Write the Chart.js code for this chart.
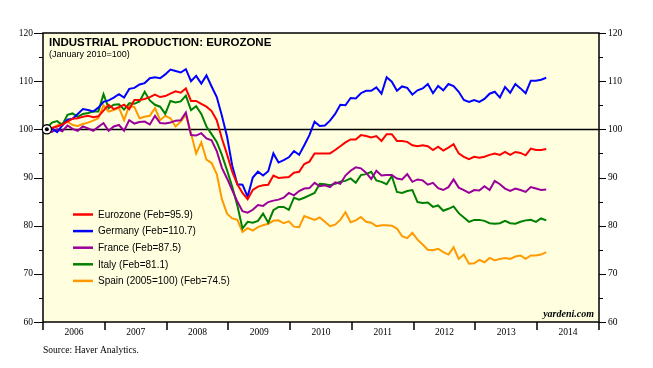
<!DOCTYPE html>
<html><head><meta charset="utf-8">
<script src="https://cdn.jsdelivr.net/npm/chart.js@4/dist/chart.umd.min.js"></script>
<style>html,body{margin:0;padding:0;background:#fff;}canvas{display:block;}</style>
</head><body>
<canvas id="c" width="653" height="368"></canvas>
<script>
// ---- data (monthly, Jan 2006 .. Feb 2014) ----
const years = ['2006','2007','2008','2009','2010','2011','2012','2013','2014'];
const yMajorTicks = [60,70,80,90,100,110,120];
const yMinorTicks = [65,75,85,95,105,115];
const refValue = 100;
const titleText = 'INDUSTRIAL PRODUCTION: EUROZONE';
const subtitleText = '(January 2010=100)';
const sourceText = 'Source: Haver Analytics.';
const brandText = 'yardeni.com';

const seriesNames = ['Eurozone (Feb=95.9)','Germany (Feb=110.7)','France (Feb=87.5)','Italy (Feb=81.1)','Spain (2005=100) (Feb=74.5)'];
const seriesColors = ['#FF0000','#0000FF','#990099','#008000','#FF9900'];

const eurozone = [100.0,100.3,100.6,101.0,101.6,102.2,102.3,102.6,102.8,102.5,
102.7,103.9,105.1,104.2,104.6,105.1,104.2,106.1,106.1,106.3,
106.7,107.2,106.7,106.9,107.4,107.9,107.6,108.5,105.9,105.9,
105.3,104.7,103.8,101.9,98.1,94.8,91.2,88.6,86.8,85.5,
87.4,88.1,88.4,88.5,90.4,89.9,90.0,90.1,91.0,91.2,
92.8,93.3,95.0,95.0,95.0,95.0,95.7,96.5,97.3,97.9,
97.9,98.8,98.6,98.3,98.6,97.6,99.0,99.0,97.6,97.6,
97.4,96.7,96.5,96.7,96.5,95.7,96.4,95.6,96.2,96.9,
95.0,94.3,93.8,94.3,94.1,94.3,94.7,95.0,94.7,95.3,
94.7,95.3,95.1,94.6,96.0,95.7,95.7,95.9];

const germany = [100.0,100.2,99.4,100.8,102.0,102.2,103.2,104.2,104.0,103.7,
104.5,105.7,106.0,106.6,107.3,106.6,108.4,108.6,109.3,109.6,
110.6,110.8,110.6,111.4,112.4,112.1,111.8,112.5,110.0,111.1,
109.5,111.2,108.9,106.7,102.8,98.5,92.5,88.6,88.5,86.0,
90.0,91.2,90.4,91.3,95.0,93.1,93.6,94.2,95.5,94.7,
96.7,98.8,101.6,100.7,100.8,101.8,103.2,105.1,105.0,106.5,
106.4,107.5,108.0,108.0,108.7,107.4,110.8,109.9,108.0,108.9,
108.6,107.2,108.1,108.5,109.4,107.5,109.0,108.1,109.4,109.0,
107.8,106.1,105.7,106.1,105.7,106.3,107.4,107.8,106.6,108.8,
107.6,109.4,108.5,107.5,110.1,110.1,110.3,110.7];

const france = [99.3,99.5,100.0,99.6,100.8,100.1,99.7,100.6,100.2,99.7,
100.5,101.3,99.7,100.6,100.9,99.7,101.9,101.2,101.5,101.6,
101.0,102.8,101.3,101.2,101.4,101.8,101.9,103.5,98.8,98.7,
99.2,98.1,97.7,95.5,92.0,89.8,87.4,85.0,83.0,82.7,
83.3,84.3,84.1,84.9,85.2,85.4,85.8,86.8,86.3,87.2,
87.7,87.8,88.9,88.2,88.4,88.0,89.0,88.7,90.4,91.4,
92.1,91.9,91.0,89.7,91.4,90.4,90.5,90.5,89.8,89.6,
90.7,89.1,89.6,89.4,88.5,88.9,87.8,87.4,88.0,89.6,
87.9,87.4,86.8,87.4,87.3,88.2,87.4,89.3,88.6,87.7,
87.2,87.7,87.4,87.0,88.0,87.7,87.4,87.5];

const italy = [100.4,101.4,101.7,100.9,103.0,103.3,102.6,103.2,103.4,103.7,
103.7,107.3,104.4,105.1,105.2,104.1,105.4,105.3,105.8,107.8,
106.0,105.1,104.7,103.2,105.9,105.6,105.8,107.0,104.0,104.8,
103.2,100.6,99.0,97.4,94.7,91.5,88.1,84.2,79.4,80.8,
80.6,81.0,82.5,80.6,83.2,83.9,83.9,83.3,85.8,85.4,
85.8,86.3,86.8,88.7,88.6,88.4,88.7,89.1,89.3,89.8,
88.9,90.5,90.7,91.2,89.4,89.1,88.6,90.3,87.0,86.8,
87.2,87.4,84.9,84.7,84.8,83.9,84.2,83.1,83.5,84.0,
82.6,81.7,80.8,81.2,81.2,81.0,80.5,80.4,80.5,81.0,
80.5,80.4,80.8,81.1,81.2,80.8,81.5,81.1];

const spain = [99.6,100.2,100.8,101.3,101.6,100.9,100.7,101.1,101.4,101.8,
102.3,105.0,103.7,104.0,104.5,101.9,104.9,104.6,102.3,102.6,
102.8,104.4,101.9,102.8,102.3,100.6,101.6,103.0,99.2,95.0,
97.3,93.7,93.0,90.7,85.5,82.5,81.5,81.2,78.7,79.5,
79.0,79.7,80.1,80.4,81.0,81.1,80.5,80.9,79.8,79.7,
82.0,81.6,81.2,81.7,80.8,79.9,80.2,81.2,82.8,80.7,
81.1,81.8,80.8,80.6,79.9,80.1,80.1,80.0,79.4,77.8,
77.4,78.5,77.1,76.1,75.0,74.9,75.2,74.5,74.0,75.5,
73.1,74.0,72.1,72.2,72.9,72.4,73.3,72.8,73.1,73.3,
73.1,73.6,73.8,73.1,73.8,73.8,74.0,74.5];

const allSeries = [eurozone, germany, france, italy, spain];

// ---- build ----
const toPoints = arr => arr.map((v, i) => ({x: i + 0.75, y: v}));
const datasets = allSeries.map((arr, k) => ({
  label: seriesNames[k],
  data: toPoints(arr),
  borderColor: seriesColors[k],
  backgroundColor: seriesColors[k],
  borderWidth: 2,
  pointRadius: 0,
  tension: 0,
  order: k
}));

const SERIF = '"Liberation Serif", "Times New Roman", serif';
const SANS = '"Liberation Sans", Arial, sans-serif';

const deco = {
  id: 'deco',
  beforeDraw(chart) {
    const {ctx, chartArea: a} = chart;
    ctx.save();
    ctx.fillStyle = '#FFFFE0';
    ctx.fillRect(a.left, a.top, a.right - a.left, a.bottom - a.top);
    ctx.restore();
  },
  beforeDatasetsDraw(chart) {
    const {ctx, chartArea: a, scales} = chart;
    const py = Math.round(scales.y.getPixelForValue(refValue)) + 0.5;
    ctx.save();
    ctx.strokeStyle = '#000';
    ctx.lineWidth = 1.5;
    ctx.beginPath(); ctx.moveTo(a.left, py); ctx.lineTo(a.right, py); ctx.stroke();
    ctx.restore();
  },
  afterDraw(chart) {
    const {ctx, chartArea: a, scales} = chart;
    const y = scales.y, x = scales.x;
    ctx.save();
    // frame
    ctx.strokeStyle = '#000';
    ctx.lineWidth = 1.5;
    ctx.strokeRect(a.left, a.top, a.right - a.left, a.bottom - a.top);
    // y tick marks
    ctx.lineWidth = 1;
    ctx.beginPath();
    yMajorTicks.forEach(v => {
      const p = Math.round(y.getPixelForValue(v)) + 0.5;
      ctx.moveTo(a.left - 9, p); ctx.lineTo(a.left, p);
      ctx.moveTo(a.right, p); ctx.lineTo(a.right + 7, p);
    });
    yMinorTicks.forEach(v => {
      const p = Math.round(y.getPixelForValue(v)) + 0.5;
      ctx.moveTo(a.left - 4, p); ctx.lineTo(a.left, p);
      ctx.moveTo(a.right, p); ctx.lineTo(a.right + 4, p);
    });
    ctx.stroke();
    // x year boundaries
    ctx.lineWidth = 1.5;
    ctx.beginPath();
    for (let k = 0; k <= years.length; k++) {
      const p = Math.round(x.getPixelForValue(k * 12));
      ctx.moveTo(p, a.bottom); ctx.lineTo(p, a.bottom + 8);
    }
    ctx.stroke();
    // base marker at first month
    const first = chart.data.datasets[0].data[0];
    const mx = x.getPixelForValue(first.x), my = y.getPixelForValue(refValue);
    ctx.beginPath(); ctx.arc(mx, my, 4.6, 0, Math.PI * 2);
    ctx.fillStyle = '#fff'; ctx.fill();
    ctx.lineWidth = 1.3; ctx.strokeStyle = '#000'; ctx.stroke();
    ctx.beginPath(); ctx.arc(mx, my, 2, 0, Math.PI * 2);
    ctx.fillStyle = '#000'; ctx.fill();
    // title
    ctx.fillStyle = '#000';
    ctx.textBaseline = 'alphabetic';
    ctx.textAlign = 'left';
    ctx.font = 'bold 11.5px ' + SANS;
    ctx.fillText(titleText, a.left + 6, a.top + 13);
    ctx.font = '9px ' + SANS;
    ctx.fillText(subtitleText, a.left + 6, a.top + 23.5);
    // legend
    ctx.font = '10px ' + SANS;
    ctx.textBaseline = 'middle';
    chart.data.datasets.forEach((ds, k) => {
      const ly = 214.5 + k * 16.6;
      ctx.strokeStyle = ds.borderColor;
      ctx.lineWidth = 2.5;
      ctx.beginPath(); ctx.moveTo(73, ly); ctx.lineTo(93, ly); ctx.stroke();
      ctx.fillStyle = '#000';
      ctx.fillText(ds.label, 98, ly + 0.5);
    });
    // brand
    ctx.textBaseline = 'alphabetic';
    ctx.textAlign = 'right';
    ctx.font = 'italic bold 10px ' + SERIF;
    ctx.fillText(brandText, a.right - 5, a.bottom - 5);
    // source
    ctx.textAlign = 'left';
    ctx.font = '9.5px ' + SERIF;
    ctx.fillText(sourceText, a.left, 353);
    ctx.restore();
  }
};

const yAxisCommon = {
  type: 'linear', min: 60, max: 120,
  afterBuildTicks: s => { s.ticks = yMajorTicks.map(v => ({value: v})); },
  grid: {display: false, drawTicks: false},
  border: {display: false},
  ticks: {font: {family: SERIF, size: 9.5}, color: '#000'}
};

new Chart(document.getElementById('c'), {
  type: 'line',
  data: {datasets},
  options: {
    responsive: false,
    animation: false,
    devicePixelRatio: 1,
    layout: {padding: {top: 33, left: 0, right: 0, bottom: 0}},
    plugins: {legend: {display: false}, tooltip: {enabled: false}},
    scales: {
      x: {
        type: 'linear', min: 0, max: years.length * 12,
        afterBuildTicks: s => { s.ticks = years.map((_, k) => ({value: k * 12 + 6})); },
        afterFit: s => { s.height = 46; },
        grid: {display: false, drawTicks: false},
        border: {display: false},
        ticks: {
          padding: 5, maxRotation: 0, autoSkip: false,
          font: {family: SERIF, size: 9.5}, color: '#000',
          callback: v => years[Math.floor(v / 12)]
        }
      },
      y: Object.assign({}, yAxisCommon, {
        position: 'left',
        afterFit: s => { s.width = 43; },
        ticks: Object.assign({}, yAxisCommon.ticks, {padding: 10})
      }),
      y2: Object.assign({}, yAxisCommon, {
        position: 'right',
        afterFit: s => { s.width = 54; },
        ticks: Object.assign({}, yAxisCommon.ticks, {padding: 9})
      })
    }
  },
  plugins: [deco]
});
</script>
</body></html>
